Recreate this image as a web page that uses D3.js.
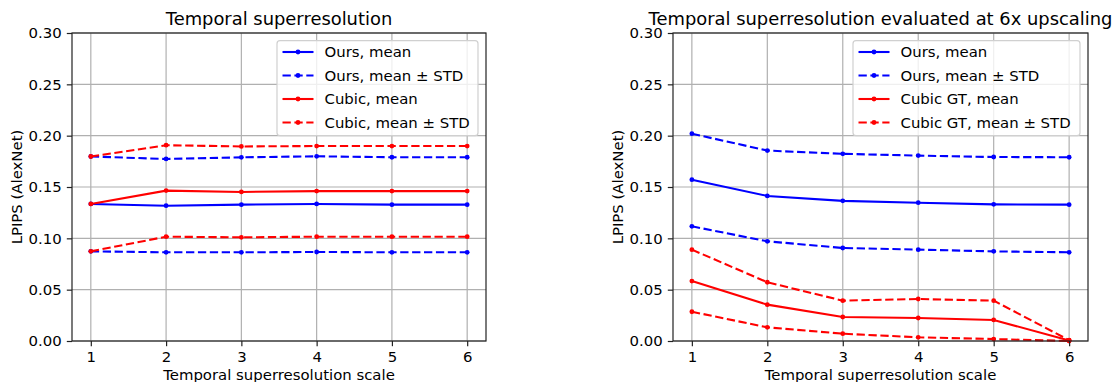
<!DOCTYPE html>
<html>
<head>
<meta charset="utf-8">
<script src="https://cdn.jsdelivr.net/npm/d3@7"></script>
<style>
  html, body { margin: 0; padding: 0; background: #fff; }
  svg { display: block; font-family: "DejaVu Sans", sans-serif; }
</style>
</head>
<body>
<svg id="chart" width="1116" height="382"></svg>
<script>
// ---- Data ----
const scales = [1, 2, 3, 4, 5, 6];
const yTicks = [0.00, 0.05, 0.10, 0.15, 0.20, 0.25, 0.30];

// Left panel: Temporal superresolution
const leftOursMean   = [0.1335, 0.1318, 0.1328, 0.1335, 0.1328, 0.1328];
const leftOursUpper  = [0.1797, 0.1773, 0.1789, 0.1799, 0.1790, 0.1790];
const leftOursLower  = [0.0873, 0.0864, 0.0864, 0.0867, 0.0864, 0.0864];
const leftCubicMean  = [0.1335, 0.1465, 0.1452, 0.1460, 0.1460, 0.1460];
const leftCubicUpper = [0.1797, 0.1907, 0.1895, 0.1899, 0.1899, 0.1899];
const leftCubicLower = [0.0873, 0.1016, 0.1010, 0.1016, 0.1016, 0.1016];

// Right panel: evaluated at 6x upscaling
const rightOursMean   = [0.1571, 0.1413, 0.1365, 0.1347, 0.1331, 0.1328];
const rightOursUpper  = [0.2019, 0.1855, 0.1823, 0.1806, 0.1792, 0.1790];
const rightOursLower  = [0.1117, 0.0971, 0.0906, 0.0890, 0.0873, 0.0864];
const rightCubicMean  = [0.0584, 0.0354, 0.0234, 0.0224, 0.0205, 0.0005];
const rightCubicUpper = [0.0890, 0.0572, 0.0393, 0.0409, 0.0393, 0.0008];
const rightCubicLower = [0.0285, 0.0133, 0.0071, 0.0036, 0.0019, 0.0000];

const leftLabels  = ["Ours, mean", "Ours, mean \u00b1 STD", "Cubic, mean", "Cubic, mean \u00b1 STD"];
const rightLabels = ["Ours, mean", "Ours, mean \u00b1 STD", "Cubic GT, mean", "Cubic GT, mean \u00b1 STD"];

const BLUE = "#0000ff", RED = "#ff0000";
const svg = d3.select("#chart");
const FS = 14.9;
const TITLE_FS = 17.9;
const DASH = "8.3,3.6";

function panel(opts) {
  const { left, right, top, bottom, title, series, labels, legendX, legendW } = opts;
  const x = d3.scaleLinear().domain([0.75, 6.25]).range([left, right]);
  const y = d3.scaleLinear().domain([0, 0.30]).range([bottom, top]);
  const g = svg.append("g");

  // grid
  g.append("g").selectAll("line").data(scales).join("line")
    .attr("x1", d => x(d)).attr("x2", d => x(d))
    .attr("y1", top).attr("y2", bottom)
    .attr("stroke", "#b0b0b0").attr("stroke-width", 1.2);
  g.append("g").selectAll("line").data(yTicks).join("line")
    .attr("x1", left).attr("x2", right)
    .attr("y1", d => y(d)).attr("y2", d => y(d))
    .attr("stroke", "#b0b0b0").attr("stroke-width", 1.2);

  // series
  const line = d3.line().x((d, i) => x(scales[i])).y(d => y(d));
  series.forEach(s => {
    const sg = g.append("g");
    sg.append("path").datum(s.values)
      .attr("d", line)
      .attr("fill", "none")
      .attr("stroke", s.color)
      .attr("stroke-width", 2.1)
      .attr("stroke-dasharray", s.dashed ? DASH : null);
    sg.selectAll("circle").data(s.values).join("circle")
      .attr("cx", (d, i) => x(scales[i])).attr("cy", d => y(d))
      .attr("r", 2.4).attr("fill", s.color);
  });

  // axes
  const xAxis = d3.axisBottom(x).tickValues(scales).tickFormat(d3.format("d"))
    .tickSize(5.2).tickPadding(5.2);
  const yAxis = d3.axisLeft(y).tickValues(yTicks).tickFormat(d3.format(".2f"))
    .tickSize(5.2).tickPadding(5.2);
  const gx = g.append("g").attr("transform", `translate(0,${bottom})`).call(xAxis);
  const gy = g.append("g").attr("transform", `translate(${left},0)`).call(yAxis);
  [gx, gy].forEach(a => {
    a.attr("font-size", FS).attr("font-family", "DejaVu Sans, sans-serif");
    a.select(".domain").remove();
    a.selectAll(".tick line").attr("stroke", "#222").attr("stroke-width", 1.2);
    a.selectAll(".tick text").attr("font-size", FS).attr("fill", "#000");
  });

  // frame
  g.append("rect").attr("x", left).attr("y", top)
    .attr("width", right - left).attr("height", bottom - top)
    .attr("fill", "none").attr("stroke", "#222").attr("stroke-width", 1.2);

  // title & labels
  g.append("text").attr("x", (left + right) / 2).attr("y", 25)
    .attr("text-anchor", "middle").attr("font-size", TITLE_FS).text(title);
  g.append("text").attr("x", (left + right) / 2).attr("y", 380)
    .attr("text-anchor", "middle").attr("font-size", FS).text("Temporal superresolution scale");
  g.append("text")
    .attr("transform", `translate(${left - 50},${(top + bottom) / 2}) rotate(-90)`)
    .attr("text-anchor", "middle").attr("font-size", FS).text("LPIPS (AlexNet)");

  // legend
  const lg = g.append("g");
  lg.append("rect").attr("x", legendX).attr("y", 40.7).attr("width", legendW).attr("height", 95)
    .attr("rx", 3).attr("fill", "#fff").attr("fill-opacity", 0.8)
    .attr("stroke", "#d0d0d0").attr("stroke-width", 1.2);
  const legendItems = [
    { color: BLUE, dashed: false }, { color: BLUE, dashed: true },
    { color: RED, dashed: false }, { color: RED, dashed: true }
  ];
  legendItems.forEach((it, i) => {
    const cy = 52 + i * 23.5;
    const lx = legendX + 5.5;
    lg.append("line").attr("x1", lx).attr("x2", lx + 31).attr("y1", cy).attr("y2", cy)
      .attr("stroke", it.color).attr("stroke-width", 2.1)
      .attr("stroke-dasharray", it.dashed ? DASH : null);
    lg.append("circle").attr("cx", lx + 15.5).attr("cy", cy).attr("r", 2.4).attr("fill", it.color);
    lg.append("text").attr("x", lx + 42).attr("y", cy + 5.4).attr("font-size", FS).text(labels[i]);
  });
}

panel({
  left: 72, right: 486, top: 33, bottom: 341,
  title: "Temporal superresolution",
  labels: leftLabels, legendX: 277, legendW: 201,
  series: [
    { values: leftOursMean, color: BLUE, dashed: false },
    { values: leftOursUpper, color: BLUE, dashed: true },
    { values: leftOursLower, color: BLUE, dashed: true },
    { values: leftCubicMean, color: RED, dashed: false },
    { values: leftCubicUpper, color: RED, dashed: true },
    { values: leftCubicLower, color: RED, dashed: true }
  ]
});

panel({
  left: 673, right: 1088, top: 33, bottom: 341,
  title: "Temporal superresolution evaluated at 6x upscaling",
  labels: rightLabels, legendX: 853, legendW: 227,
  series: [
    { values: rightOursMean, color: BLUE, dashed: false },
    { values: rightOursUpper, color: BLUE, dashed: true },
    { values: rightOursLower, color: BLUE, dashed: true },
    { values: rightCubicMean, color: RED, dashed: false },
    { values: rightCubicUpper, color: RED, dashed: true },
    { values: rightCubicLower, color: RED, dashed: true }
  ]
});
</script>
</body>
</html>
